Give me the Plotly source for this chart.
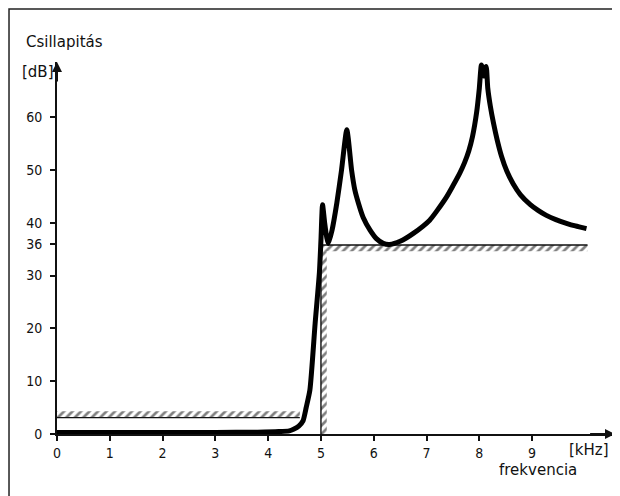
import plotly.graph_objects as go

# ---- data ----
freq_khz = [0, 1, 2, 3, 3.8, 4.2, 4.4, 4.48, 4.58, 4.66, 4.72, 4.79, 4.89, 4.97, 5.0, 5.03,
            5.07, 5.11, 5.14, 5.21, 5.30, 5.39, 5.49, 5.58, 5.64, 5.71, 5.80, 5.93, 6.05,
            6.18, 6.3, 6.5, 6.75, 7.06, 7.2, 7.38, 7.5, 7.63, 7.72, 7.80, 7.87, 7.95, 8.0,
            8.04, 8.085, 8.13, 8.16, 8.21, 8.27, 8.34, 8.42, 8.52, 8.64, 8.78, 8.96, 9.12,
            9.27, 9.45, 9.65, 9.82, 10.03]
atten_db = [0.3, 0.3, 0.3, 0.3, 0.35, 0.45, 0.6, 0.9, 1.5, 2.5, 5.0, 8.3, 21.0, 30.5, 36.7, 43.4,
            40.0, 37.2, 36.1, 38.6, 43.7, 50.0, 57.6, 50.0, 46.3, 43.7, 41.0, 38.6, 37.0,
            36.1, 35.9, 36.5, 38.0, 40.5, 42.3, 44.9, 47.0, 49.4, 51.4, 53.6, 56.3, 61.0, 65.5,
            69.9, 67.8, 69.6, 65.5, 62.0, 58.8, 55.6, 52.6, 49.8, 47.4, 45.3, 43.5, 42.3,
            41.4, 40.6, 39.9, 39.4, 38.9]

pass_x = [0, 4.6]          # passband limit (max attenuation)
pass_db = 3.1
stop_x = [5.0, 10.05]      # stopband limit (min attenuation)
stop_db = 35.8

x_ticks = [0, 1, 2, 3, 4, 5, 6, 7, 8, 9]
y_ticks = [0, 10, 20, 30, 36, 40, 50, 60]

TICKFONT = "DejaVu Sans Condensed, DejaVu Sans, sans-serif"
TEXTFONT = "DejaVu Sans, sans-serif"
INK = "#111111"

fig = go.Figure()

# hatched bands (drawing style) along the tolerance lines
hw_db = 1.2     # hatch band height in dB
hw_khz = 0.11   # hatch band width in kHz
pat = dict(shape="/", fgcolor="#000000", bgcolor="rgba(0,0,0,0)", size=6, solidity=0.45)

fig.add_trace(go.Scatter(
    x=[pass_x[0], pass_x[1], pass_x[1], pass_x[0], pass_x[0]],
    y=[pass_db, pass_db, pass_db + hw_db, pass_db + hw_db, pass_db],
    fill="toself", mode="none", fillpattern=pat, fillcolor="rgba(0,0,0,0)",
    hoverinfo="skip", showlegend=False))
fig.add_trace(go.Scatter(
    x=[stop_x[0], stop_x[1], stop_x[1], stop_x[0], stop_x[0]],
    y=[stop_db, stop_db, stop_db - hw_db, stop_db - hw_db, stop_db],
    fill="toself", mode="none", fillpattern=pat, fillcolor="rgba(0,0,0,0)",
    hoverinfo="skip", showlegend=False))
fig.add_trace(go.Scatter(
    x=[stop_x[0], stop_x[0] + hw_khz, stop_x[0] + hw_khz, stop_x[0], stop_x[0]],
    y=[0, 0, stop_db - hw_db, stop_db - hw_db, 0],
    fill="toself", mode="none", fillpattern=pat, fillcolor="rgba(0,0,0,0)",
    hoverinfo="skip", showlegend=False))

# tolerance lines
fig.add_trace(go.Scatter(x=pass_x, y=[pass_db, pass_db], mode="lines",
                         line=dict(color=INK, width=1.4), hoverinfo="skip", showlegend=False))
fig.add_trace(go.Scatter(x=[stop_x[0], stop_x[0], stop_x[1]], y=[0, stop_db, stop_db],
                         mode="lines", line=dict(color=INK, width=1.4),
                         hoverinfo="skip", showlegend=False))

# attenuation curve
fig.add_trace(go.Scatter(x=freq_khz, y=atten_db, mode="lines",
                         line=dict(color="#000000", width=5, shape="spline", smoothing=0.6),
                         showlegend=False))

X_MAX = 10.57
Y_MAX = 70.45

fig.update_xaxes(range=[0, X_MAX], showgrid=False, zeroline=False, showline=True,
                 linecolor=INK, linewidth=2, ticks="outside", ticklen=5, tickwidth=1.5,
                 tickcolor=INK, tickvals=x_ticks, ticktext=[str(v) for v in x_ticks],
                 tickfont=dict(family=TICKFONT, size=14, color=INK))
fig.update_yaxes(range=[0, Y_MAX], showgrid=False, zeroline=False, showline=True,
                 linecolor=INK, linewidth=2, ticks="outside", ticklen=5, tickwidth=1.5,
                 tickcolor=INK, tickvals=y_ticks, ticktext=[str(v) for v in y_ticks],
                 tickfont=dict(family=TICKFONT, size=14, color=INK), ticklabelstandoff=5)

ann_font = dict(family=TEXTFONT, size=15, color=INK)
fig.add_annotation(text="Csillapitás", xref="paper", yref="paper", x=-0.06, y=1.054,
                   xanchor="left", yanchor="middle", showarrow=False, font=ann_font)
fig.add_annotation(text="[dB]", xref="paper", yref="paper", x=-0.066, y=0.973,
                   xanchor="left", yanchor="middle", showarrow=False, font=ann_font)
fig.add_annotation(text="[kHz]", xref="paper", yref="paper", x=0.914, y=-0.043,
                   xanchor="left", yanchor="middle", showarrow=False, font=ann_font)
fig.add_annotation(text="frekvencia", xref="paper", yref="paper", x=0.788, y=-0.097,
                   xanchor="left", yanchor="middle", showarrow=False, font=ann_font)

# axis arrowheads
fig.add_annotation(x=0, y=Y_MAX, ax=0, ay=Y_MAX - 4, xref="x", yref="y", axref="x", ayref="y",
                   text="", showarrow=True, arrowhead=2, arrowsize=1, arrowwidth=2,
                   arrowcolor=INK)
fig.add_annotation(x=X_MAX, y=0, ax=X_MAX - 0.5, ay=0, xref="x", yref="y", axref="x", ayref="y",
                   text="", showarrow=True, arrowhead=2, arrowsize=1, arrowwidth=2,
                   arrowcolor=INK)

# drawing frame
fig.add_shape(type="rect", xref="paper", yref="paper", x0=-0.086, x1=1.0036, y0=-0.2, y1=1.1425,
              line=dict(color="#222222", width=1.5), layer="below")

# page body has an 8px margin, so the figure is sized to fill the rest of the window
fig.update_layout(width=612, height=488, margin=dict(l=49, r=5, t=54, b=62),
                  plot_bgcolor="white", paper_bgcolor="white",
                  font=dict(family=TEXTFONT, color=INK))

fig.write_html("out.html")
